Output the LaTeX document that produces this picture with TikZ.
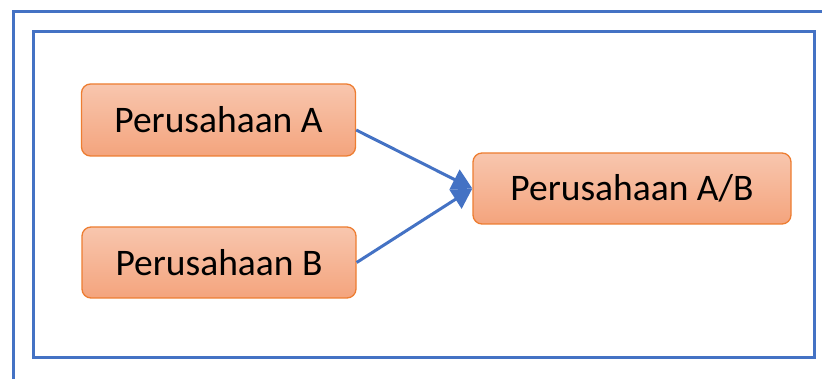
\documentclass[tikz,border=0pt]{standalone}
\usepackage{fontspec}
\setmainfont{Carlito}
\usetikzlibrary{arrows.meta}
\definecolor{frameblue}{HTML}{4472C4}
\definecolor{boxedge}{HTML}{ED7D31}
\definecolor{boxtop}{HTML}{F8C6AE}
\definecolor{boxbot}{HTML}{F4A47D}
\tikzset{
  company/.style={draw=boxedge, line width=1.3pt, rounded corners=9pt,
    top color=boxtop, bottom color=boxbot, inner sep=0pt,
    font=\fontsize{37.5}{45}\selectfont, text=black},
  link/.style={draw=frameblue, line width=3pt,
    -{Triangle[length=20pt,width=22pt]}, shorten >=0pt}
}
\begin{document}
\begin{tikzpicture}[x=1pt,y=-1pt]
\useasboundingbox (0,0) rectangle (822,379);
\draw[frameblue, line width=3pt] (13,395) -- (13,11.5) -- (840,11.5);
\draw[frameblue, line width=3pt] (33,31.5) rectangle (814,357.5);
\node[company, minimum width=274pt, minimum height=72pt] (A) at (218.5,120) {Perusahaan A};
\node[company, minimum width=274pt, minimum height=71pt] (B) at (219,262.5) {Perusahaan B};
\node[company, minimum width=318pt, minimum height=71pt] (AB) at (632,188.5) {Perusahaan A/B};
\draw[link] ([yshift=-10pt]A.east) -- (AB.west);
\draw[link] (B.east) -- (AB.west);
\end{tikzpicture}
\end{document}
